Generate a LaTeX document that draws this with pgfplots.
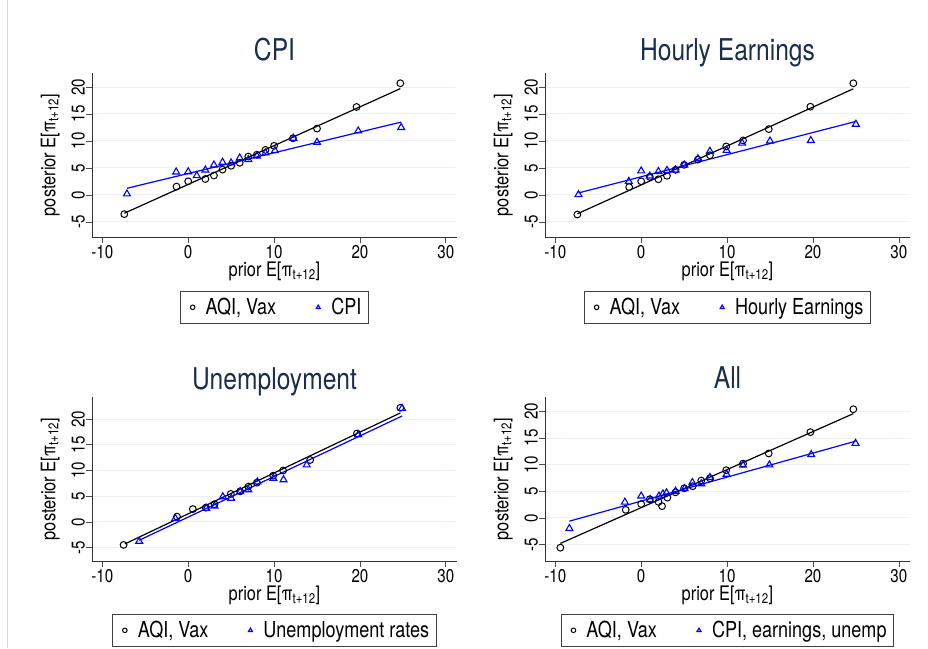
\documentclass[border=0pt]{standalone}
\usepackage{fontspec}
\setmainfont{TeX Gyre Heros}[FakeStretch=0.82]
\usepackage{pgfplots}
\pgfplotsset{compat=1.18}

\definecolor{stgrid}{RGB}{234,242,243}
\definecolor{sttitle}{RGB}{26,46,76}
\definecolor{stblue}{RGB}{0,0,255}

\newcommand\titlesz{\fontsize{30}{34}\selectfont}
\newcommand\labsz{\fontsize{20}{24}\selectfont}
\newcommand\ticksz{\fontsize{18.5}{22}\selectfont}
\newcommand\legsz{\fontsize{22}{26}\selectfont}
\newcommand\pilab{E[π\textsubscript{t+12}]}

\pgfplotsset{
  stpanel/.style={
    scale only axis, width=365pt, anchor=south west,
    axis lines*=left, axis line style={black!80, line width=0.8pt},
    xmin=-11.2, xmax=31.3,
    xtick={-10,0,10,20,30}, xticklabels={-10,0,10,20,30},
    ytick={-5,0,5,10,15,20}, yticklabels={-5,0,5,10,15,20},
    tick align=outside, major tick length=6pt,
    tick style={black!70, line width=0.7pt},
    ymajorgrids, major grid style={stgrid, line width=1pt},
    xticklabel style={font=\ticksz, inner sep=1pt, yshift=-1pt},
    yticklabel style={font=\ticksz, rotate=90, anchor=south, inner sep=1pt},
    title style={font=\titlesz, color=sttitle, at={(axis description cs:0.5,1)}, anchor=base},
    xlabel={prior \pilab}, ylabel={posterior \pilab},
    xlabel style={font=\labsz, at={(axis description cs:0.5,0)}, anchor=north, yshift=-25pt, inner sep=0pt},
    ylabel style={font=\labsz, at={(axis description cs:-0.088,0.5)}, anchor=south, inner sep=0pt},
    legend columns=2,
    legend style={draw=black!75, line width=0.8pt, font=\legsz, anchor=north,
      inner xsep=5pt, inner ysep=5pt, cells={anchor=west},
      /tikz/every even column/.append style={column sep=33pt}},
    legend image code/.code={%
      \path[draw=none, fill=none] (0pt,-4pt) rectangle (18pt,4pt);
      \draw[##1, mark size=2.3pt, line width=0.9pt] plot coordinates {(7pt,0pt)};},
    clip=false,
  },
  toprow/.style={height=164pt, title style={yshift=6pt}, legend style={at={(0.5,-0.329)}}},
  botrow/.style={height=164pt, title style={yshift=2pt}, legend style={at={(0.5,-0.323)}}},
  aqi/.style={only marks, mark=o, mark size=3.4pt, black, mark options={line width=1pt}},
  oth/.style={only marks, mark=triangle, mark size=4pt, stblue, mark options={line width=1.1pt}},
  fitk/.style={black, line width=1.2pt, forget plot},
  fitb/.style={stblue, line width=1.2pt, forget plot},
}

\begin{document}
\begin{tikzpicture}
\path[use as bounding box] (0,0) rectangle (928pt,648pt);
\draw[black!15, line width=0.8pt] (7pt,0) -- (7pt,648pt);

% CPI
\begin{axis}[stpanel, toprow, at={(92pt,411pt)}, ymin=-7.8, ymax=22.6, title={CPI}]
\addplot[aqi] coordinates {(-7.44,-3.56) (-1.36,1.54) (0,2.52) (2,2.95) (3,3.6) (4,4.7) (5,5.4) (6,5.95) (7,7.1) (8,7.45) (9,8.35) (10,9.1) (12.2,10.5) (15,12.3) (19.6,16.3) (24.7,20.7)};
\addlegendentry{AQI, Vax}
\addplot[oth] coordinates {(-7.13,0.18) (-1.4,4.25) (0,4.3) (1,3.57) (2,4.62) (3,5.55) (4,6.06) (5,5.94) (6,6.85) (7,6.55) (8,7.2) (9,7.8) (10.1,8.2) (12.25,10.5) (15,9.77) (19.8,11.86) (24.8,12.5)};
\addlegendentry{CPI}
\addplot[fitk] coordinates {(-7.44,-3.4) (24.7,19.7)};
\addplot[fitb] coordinates {(-7.13,1.23) (24.8,13.5)};
\end{axis}

% Hourly Earnings
\begin{axis}[stpanel, toprow, at={(545pt,411pt)}, ymin=-7.8, ymax=22.6, title={Hourly Earnings}]
\addplot[aqi] coordinates {(-7.43,-3.63) (-1.4,1.45) (0,2.52) (1,3.35) (2,2.9) (3,3.55) (4,4.65) (5,5.58) (6.6,6.55) (8,7.35) (9.9,8.98) (11.86,10.1) (14.85,12.2) (19.7,16.35) (24.7,20.7)};
\addlegendentry{AQI, Vax}
\addplot[oth] coordinates {(-7.3,0.06) (-1.44,2.5) (0,4.45) (1,3.5) (2,4.35) (3,4.55) (4,4.62) (5,5.55) (6.6,6.7) (8,8.1) (9.95,8.25) (11.75,9.6) (15,10.0) (19.75,10.08) (25,13.1)};
\addlegendentry{Hourly Earnings}
\addplot[fitk] coordinates {(-7.43,-3.5) (24.7,19.67)};
\addplot[fitb] coordinates {(-7.3,0.37) (24.95,13.6)};
\end{axis}

% Unemployment
\begin{axis}[stpanel, botrow, at={(92pt,87pt)}, ymin=-7.6, ymax=24.3, title={Unemployment}]
\addplot[aqi] coordinates {(-7.52,-4.47) (-1.3,1.03) (0.54,2.5) (2.05,2.78) (3.06,3.45) (4.96,5.45) (6.05,5.95) (7.0,6.86) (8.0,7.64) (9.9,9.0) (11.05,10.0) (14.2,12.05) (19.65,17.2) (24.7,22.2)};
\addlegendentry{AQI, Vax}
\addplot[oth] coordinates {(-5.7,-3.75) (-1.5,0.7) (2.1,2.65) (3.06,3.1) (4.03,4.9) (5.0,4.6) (6.05,5.9) (7.0,6.25) (8.06,7.8) (9.92,8.5) (11.1,8.2) (13.8,11.1) (19.8,16.96) (24.9,22.1)};
\addlegendentry{Unemployment rates}
\addplot[fitk] coordinates {(-7.36,-4.27) (24.7,21.2)};
\addplot[fitb] coordinates {(-5.7,-3.56) (24.9,20.6)};
\end{axis}

% All
\begin{axis}[stpanel, botrow, at={(545pt,87pt)}, ymin=-8.1, ymax=22.7, title={All}]
\addplot[aqi] coordinates {(-9.41,-5.6) (-1.8,1.5) (0,2.6) (1.0,3.5) (2.02,3.0) (2.43,2.2) (3.05,3.8) (4.0,4.8) (5.0,5.55) (6.0,5.95) (7.0,7.0) (8.0,7.45) (9.9,8.95) (11.86,10.19) (14.85,12.1) (19.7,16.1) (24.7,20.4)};
\addlegendentry{AQI, Vax}
\addplot[oth] coordinates {(-8.36,-1.99) (-1.9,2.95) (0,4.1) (1.05,3.4) (2.07,4.1) (2.53,4.5) (2.95,4.7) (4.0,5.0) (5.05,5.5) (5.96,6.65) (7.0,6.4) (8.0,7.6) (9.95,8.2) (11.85,9.9) (14.93,9.94) (19.8,11.9) (24.96,14.0)};
\addlegendentry{CPI, earnings, unemp}
\addplot[fitk] coordinates {(-9.41,-4.8) (24.7,19.57)};
\addplot[fitb] coordinates {(-8.36,-0.62) (24.96,14.4)};
\end{axis}
\end{tikzpicture}
\end{document}
